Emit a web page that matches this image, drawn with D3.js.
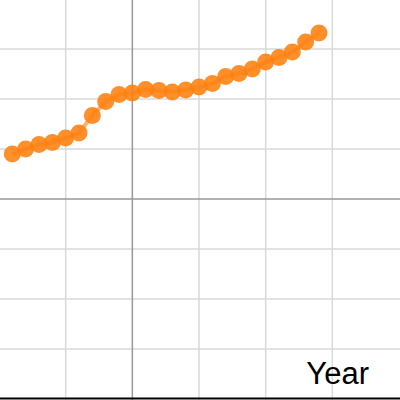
<!DOCTYPE html>
<meta charset="utf-8">
<style>
  body { margin: 0; background: #fff; }
  .grid line { stroke: #d9d9d9; stroke-width: 1.5; }
  .axis line { stroke: #999; stroke-width: 1.5; }
</style>
<body>
<script src="https://d3js.org/d3.v7.min.js"></script>
<script>

    // data
    var years = [1990, 1991, 1992, 1993, 1994, 1995, 1996, 1997, 1998, 1999, 2000, 2001,
                 2002, 2003, 2004, 2005, 2006, 2007, 2008, 2009, 2010, 2011, 2012, 2013];
    var values = [0.90, 1.00, 1.09, 1.13, 1.22, 1.32, 1.67, 1.95, 2.09, 2.12, 2.19, 2.17,
                  2.14, 2.18, 2.24, 2.31, 2.45, 2.51, 2.60, 2.74, 2.83, 2.94, 3.14, 3.32];
    var xTicks = [1994, 1999, 2004, 2009, 2014];
    var yTicks = [3, 2, 1, 0, -1, -2, -3];
    var xLabel = "Year";

    var width = 400, height = 400;

    var x = d3.scaleLinear()
        .domain([1989, 2019])
        .range([-1, 399]);
    var y = d3.scaleLinear()
        .domain([-4, 4])
        .range([399, -1]);

    var svg = d3.select("body").append("svg")
        .attr("width", width)
        .attr("height", height);

    // grid
    var grid = svg.append("g").attr("class", "grid");
    grid.selectAll(".vx")
        .data(xTicks.filter(function (d) { return d !== 1999; }))
        .enter().append("line")
        .attr("x1", function (d) { return x(d); })
        .attr("x2", function (d) { return x(d); })
        .attr("y1", 0).attr("y2", height);
    grid.selectAll(".hy")
        .data(yTicks.filter(function (d) { return d !== 0; }))
        .enter().append("line")
        .attr("y1", function (d) { return y(d); })
        .attr("y2", function (d) { return y(d); })
        .attr("x1", 0).attr("x2", width);

    // axes through the origin
    var axes = svg.append("g").attr("class", "axis");
    axes.append("line")
        .attr("x1", x(1999)).attr("x2", x(1999))
        .attr("y1", 0).attr("y2", height);
    axes.append("line")
        .attr("y1", y(0)).attr("y2", y(0))
        .attr("x1", 0).attr("x2", width);

    // bottom border
    svg.append("line")
        .attr("x1", 0).attr("x2", width)
        .attr("y1", 398.5).attr("y2", 398.5)
        .attr("stroke", "#000")
        .attr("stroke-width", 2);

    var pts = years.map(function (d, i) { return [d, values[i]]; });

    // connecting line
    svg.append("path")
        .datum(pts)
        .attr("fill", "none")
        .attr("stroke", "#ff7f0e")
        .attr("stroke-opacity", 0.6)
        .attr("stroke-width", 4)
        .attr("d", d3.line()
            .x(function (d) { return x(d[0]); })
            .y(function (d) { return y(d[1]); }));

    // points
    svg.selectAll(".dot")
        .data(pts)
        .enter().append("circle")
        .attr("class", "dot")
        .attr("cx", function (d) { return x(d[0]); })
        .attr("cy", function (d) { return y(d[1]); })
        .attr("r", 8.5)
        .attr("fill", "#ff7f0e")
        .attr("fill-opacity", 0.88);

    // axis label
    svg.append("text")
        .attr("x", 369)
        .attr("y", 384)
        .attr("text-anchor", "end")
        .style("font-family", "'Liberation Sans', Arial, sans-serif")
        .style("font-size", "31px")
        .text(xLabel);

</script>
</body>
